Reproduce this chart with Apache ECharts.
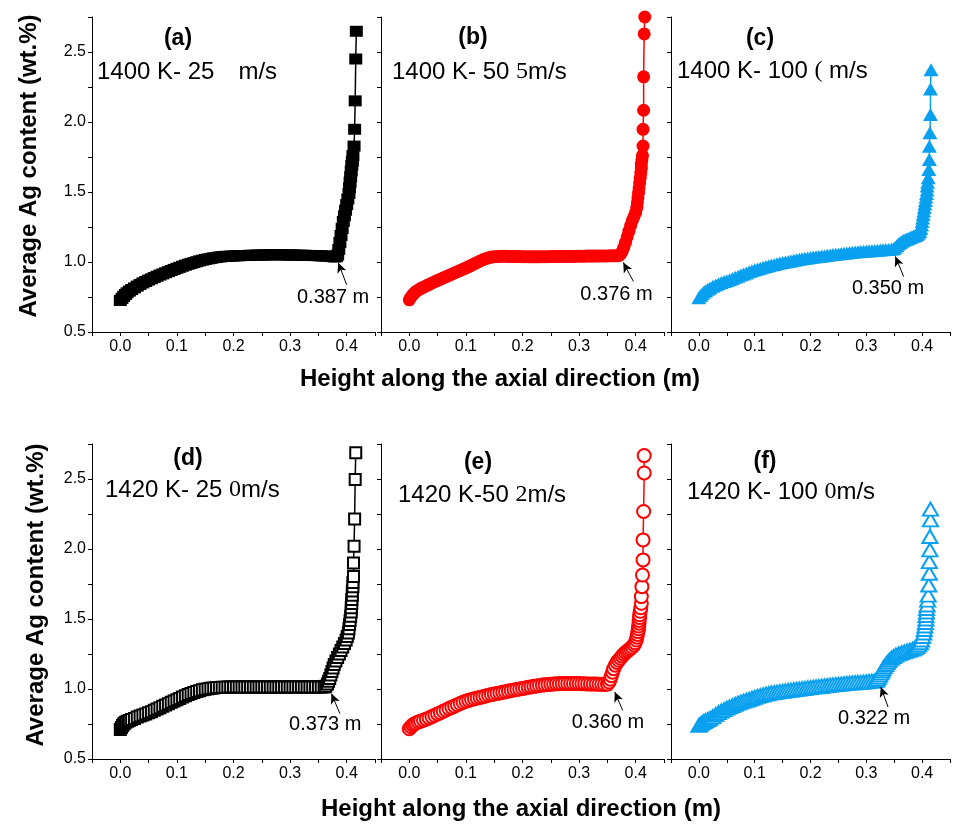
<!DOCTYPE html>
<html>
<head>
<meta charset="utf-8">
<title>Average Ag content along the axial direction</title>
<script src="https://cdn.jsdelivr.net/npm/echarts@6/dist/echarts.min.js"></script>
<style>
html, body { margin: 0; padding: 0; background: #fff; }
#container { width: 953px; height: 825px; }
</style>
</head>
<body>
<div id="container"></div>
<script>
// values: [height (m), Ag content (wt.%)]
var dataA = [[0.000,0.725],[0.003,0.740],[0.006,0.755],[0.009,0.768],[0.012,0.780],[0.016,0.792],[0.020,0.803],[0.025,0.815],[0.030,0.828],[0.035,0.840],[0.040,0.851],[0.045,0.861],[0.050,0.871],[0.055,0.880],[0.060,0.889],[0.065,0.898],[0.070,0.907],[0.075,0.915],[0.080,0.923],[0.085,0.931],[0.090,0.939],[0.095,0.947],[0.100,0.955],[0.105,0.962],[0.110,0.970],[0.115,0.977],[0.120,0.984],[0.125,0.990],[0.130,0.996],[0.135,1.002],[0.140,1.008],[0.145,1.013],[0.150,1.018],[0.155,1.022],[0.160,1.026],[0.165,1.030],[0.170,1.033],[0.175,1.036],[0.180,1.038],[0.185,1.040],[0.190,1.041],[0.195,1.042],[0.200,1.043],[0.205,1.044],[0.210,1.045],[0.215,1.046],[0.220,1.046],[0.225,1.047],[0.230,1.048],[0.235,1.048],[0.240,1.049],[0.245,1.049],[0.250,1.050],[0.255,1.050],[0.260,1.051],[0.265,1.051],[0.270,1.052],[0.275,1.052],[0.280,1.052],[0.285,1.051],[0.290,1.051],[0.295,1.050],[0.300,1.050],[0.305,1.050],[0.310,1.049],[0.315,1.049],[0.320,1.048],[0.325,1.048],[0.330,1.047],[0.335,1.047],[0.340,1.046],[0.345,1.046],[0.350,1.045],[0.355,1.044],[0.360,1.043],[0.365,1.042],[0.370,1.041],[0.375,1.038],[0.379,1.036],[0.382,1.038],[0.384,1.050],[0.386,1.090],[0.388,1.140],[0.390,1.190],[0.392,1.240],[0.394,1.290],[0.396,1.330],[0.398,1.370],[0.400,1.410],[0.402,1.450],[0.404,1.490],[0.405,1.530],[0.406,1.570],[0.407,1.610],[0.408,1.650],[0.409,1.690],[0.410,1.720],[0.411,1.760],[0.413,1.828],[0.414,1.948],[0.415,2.151],[0.416,2.450],[0.417,2.648]];
var dataB = [[0.000,0.730],[0.003,0.750],[0.006,0.765],[0.009,0.778],[0.012,0.790],[0.016,0.800],[0.020,0.810],[0.025,0.820],[0.030,0.830],[0.035,0.840],[0.040,0.850],[0.045,0.859],[0.050,0.868],[0.055,0.877],[0.060,0.886],[0.065,0.895],[0.070,0.904],[0.075,0.913],[0.080,0.922],[0.085,0.931],[0.090,0.940],[0.095,0.949],[0.100,0.958],[0.105,0.967],[0.110,0.977],[0.115,0.987],[0.120,0.997],[0.125,1.007],[0.130,1.016],[0.135,1.024],[0.140,1.030],[0.145,1.035],[0.150,1.038],[0.155,1.040],[0.160,1.040],[0.165,1.041],[0.170,1.041],[0.175,1.040],[0.180,1.040],[0.185,1.040],[0.190,1.039],[0.195,1.039],[0.200,1.038],[0.205,1.038],[0.210,1.038],[0.215,1.037],[0.220,1.037],[0.225,1.037],[0.230,1.037],[0.235,1.038],[0.240,1.038],[0.245,1.038],[0.250,1.039],[0.255,1.039],[0.260,1.040],[0.265,1.040],[0.270,1.040],[0.275,1.040],[0.280,1.040],[0.285,1.040],[0.290,1.040],[0.295,1.041],[0.300,1.041],[0.305,1.041],[0.310,1.041],[0.315,1.042],[0.320,1.042],[0.325,1.042],[0.330,1.042],[0.335,1.043],[0.340,1.043],[0.345,1.043],[0.350,1.043],[0.355,1.044],[0.360,1.044],[0.365,1.044],[0.370,1.045],[0.373,1.055],[0.376,1.075],[0.379,1.105],[0.382,1.140],[0.385,1.180],[0.388,1.220],[0.391,1.260],[0.394,1.295],[0.397,1.325],[0.400,1.355],[0.402,1.390],[0.403,1.425],[0.404,1.460],[0.405,1.495],[0.406,1.530],[0.407,1.565],[0.408,1.600],[0.409,1.635],[0.410,1.670],[0.410,1.700],[0.411,1.730],[0.412,1.760],[0.413,1.828],[0.413,1.948],[0.414,2.084],[0.414,2.323],[0.415,2.629],[0.416,2.750]];
var dataC = [[0.000,0.745],[0.003,0.760],[0.006,0.773],[0.009,0.785],[0.012,0.795],[0.016,0.805],[0.020,0.815],[0.025,0.826],[0.030,0.836],[0.035,0.845],[0.040,0.853],[0.045,0.860],[0.050,0.866],[0.055,0.874],[0.060,0.882],[0.065,0.891],[0.070,0.899],[0.075,0.907],[0.080,0.915],[0.085,0.922],[0.090,0.930],[0.095,0.937],[0.100,0.944],[0.105,0.950],[0.110,0.956],[0.115,0.962],[0.120,0.968],[0.125,0.973],[0.130,0.978],[0.135,0.983],[0.140,0.988],[0.145,0.992],[0.150,0.996],[0.155,1.000],[0.160,1.004],[0.165,1.008],[0.170,1.012],[0.175,1.016],[0.180,1.020],[0.185,1.023],[0.190,1.026],[0.195,1.029],[0.200,1.032],[0.205,1.035],[0.210,1.038],[0.215,1.040],[0.220,1.043],[0.225,1.045],[0.230,1.048],[0.235,1.050],[0.240,1.053],[0.245,1.055],[0.250,1.058],[0.255,1.060],[0.260,1.062],[0.265,1.065],[0.270,1.067],[0.275,1.069],[0.280,1.071],[0.285,1.073],[0.290,1.075],[0.295,1.077],[0.300,1.078],[0.305,1.080],[0.310,1.081],[0.315,1.083],[0.320,1.084],[0.325,1.086],[0.330,1.087],[0.335,1.089],[0.340,1.090],[0.345,1.092],[0.349,1.095],[0.352,1.105],[0.355,1.118],[0.358,1.130],[0.361,1.140],[0.364,1.148],[0.367,1.155],[0.370,1.160],[0.373,1.165],[0.376,1.170],[0.379,1.175],[0.382,1.180],[0.385,1.185],[0.388,1.190],[0.391,1.197],[0.394,1.207],[0.396,1.220],[0.398,1.240],[0.399,1.265],[0.400,1.290],[0.401,1.315],[0.402,1.340],[0.403,1.365],[0.404,1.390],[0.405,1.415],[0.406,1.440],[0.407,1.465],[0.408,1.490],[0.409,1.515],[0.409,1.542],[0.410,1.570],[0.411,1.602],[0.412,1.661],[0.413,1.733],[0.413,1.826],[0.414,1.924],[0.415,2.053],[0.415,2.235],[0.416,2.373]];
var dataD = [[0.000,0.710],[0.002,0.725],[0.004,0.740],[0.006,0.750],[0.008,0.758],[0.010,0.765],[0.013,0.770],[0.016,0.775],[0.020,0.782],[0.025,0.790],[0.030,0.800],[0.035,0.808],[0.040,0.815],[0.045,0.822],[0.050,0.830],[0.055,0.838],[0.060,0.848],[0.065,0.857],[0.070,0.866],[0.075,0.876],[0.080,0.886],[0.085,0.895],[0.090,0.905],[0.095,0.914],[0.100,0.923],[0.105,0.932],[0.110,0.942],[0.115,0.951],[0.120,0.960],[0.125,0.968],[0.130,0.975],[0.135,0.982],[0.140,0.988],[0.145,0.994],[0.150,0.998],[0.155,1.002],[0.160,1.005],[0.165,1.008],[0.170,1.010],[0.175,1.011],[0.180,1.012],[0.185,1.013],[0.190,1.014],[0.195,1.015],[0.200,1.015],[0.205,1.015],[0.210,1.015],[0.215,1.015],[0.220,1.015],[0.225,1.015],[0.230,1.015],[0.235,1.015],[0.240,1.015],[0.245,1.015],[0.250,1.015],[0.255,1.015],[0.260,1.015],[0.265,1.015],[0.270,1.015],[0.275,1.015],[0.280,1.015],[0.285,1.015],[0.290,1.015],[0.295,1.015],[0.300,1.015],[0.305,1.015],[0.310,1.015],[0.315,1.015],[0.320,1.015],[0.325,1.015],[0.330,1.015],[0.335,1.015],[0.340,1.015],[0.345,1.015],[0.350,1.015],[0.355,1.015],[0.360,1.015],[0.363,1.020],[0.366,1.035],[0.368,1.055],[0.370,1.075],[0.372,1.100],[0.374,1.125],[0.376,1.150],[0.378,1.175],[0.381,1.200],[0.384,1.225],[0.387,1.250],[0.390,1.275],[0.393,1.300],[0.396,1.325],[0.399,1.350],[0.401,1.375],[0.403,1.400],[0.404,1.430],[0.405,1.460],[0.406,1.490],[0.407,1.520],[0.408,1.550],[0.408,1.580],[0.409,1.610],[0.409,1.640],[0.410,1.670],[0.410,1.700],[0.411,1.730],[0.411,1.760],[0.412,1.803],[0.412,1.900],[0.413,2.019],[0.414,2.215],[0.415,2.497],[0.416,2.688]];
var dataE = [[0.000,0.716],[0.003,0.730],[0.006,0.742],[0.009,0.750],[0.012,0.757],[0.016,0.764],[0.020,0.770],[0.025,0.777],[0.030,0.785],[0.035,0.793],[0.040,0.803],[0.045,0.812],[0.050,0.822],[0.055,0.831],[0.060,0.841],[0.065,0.850],[0.070,0.860],[0.075,0.869],[0.080,0.878],[0.085,0.887],[0.090,0.896],[0.095,0.905],[0.100,0.912],[0.105,0.919],[0.110,0.925],[0.115,0.930],[0.120,0.935],[0.125,0.940],[0.130,0.945],[0.135,0.950],[0.140,0.955],[0.145,0.960],[0.150,0.964],[0.155,0.968],[0.160,0.972],[0.165,0.976],[0.170,0.980],[0.175,0.985],[0.180,0.989],[0.185,0.993],[0.190,0.997],[0.195,1.000],[0.200,1.004],[0.205,1.008],[0.210,1.012],[0.215,1.015],[0.220,1.019],[0.225,1.022],[0.230,1.025],[0.235,1.028],[0.240,1.030],[0.245,1.032],[0.250,1.034],[0.255,1.035],[0.260,1.037],[0.265,1.038],[0.270,1.039],[0.275,1.040],[0.280,1.040],[0.285,1.040],[0.290,1.040],[0.295,1.040],[0.300,1.039],[0.305,1.038],[0.310,1.037],[0.315,1.036],[0.320,1.036],[0.325,1.035],[0.330,1.035],[0.335,1.034],[0.340,1.034],[0.345,1.033],[0.350,1.035],[0.353,1.050],[0.355,1.070],[0.357,1.095],[0.359,1.120],[0.361,1.145],[0.364,1.170],[0.367,1.190],[0.370,1.205],[0.373,1.220],[0.376,1.235],[0.379,1.248],[0.382,1.260],[0.385,1.270],[0.388,1.280],[0.391,1.290],[0.394,1.300],[0.397,1.315],[0.399,1.330],[0.401,1.350],[0.402,1.370],[0.403,1.390],[0.404,1.410],[0.405,1.430],[0.405,1.450],[0.406,1.470],[0.406,1.490],[0.407,1.510],[0.407,1.530],[0.408,1.555],[0.409,1.580],[0.410,1.612],[0.410,1.660],[0.411,1.731],[0.412,1.814],[0.413,1.922],[0.413,2.065],[0.414,2.268],[0.415,2.543],[0.415,2.667]];
var dataF = [[0.000,0.740],[0.003,0.750],[0.006,0.760],[0.009,0.768],[0.012,0.775],[0.016,0.782],[0.020,0.790],[0.025,0.803],[0.030,0.818],[0.035,0.831],[0.040,0.843],[0.045,0.853],[0.050,0.863],[0.055,0.872],[0.060,0.882],[0.065,0.891],[0.070,0.899],[0.075,0.906],[0.080,0.913],[0.085,0.920],[0.090,0.927],[0.095,0.934],[0.100,0.940],[0.105,0.947],[0.110,0.953],[0.115,0.959],[0.120,0.964],[0.125,0.968],[0.130,0.972],[0.135,0.975],[0.140,0.978],[0.145,0.981],[0.150,0.984],[0.155,0.987],[0.160,0.990],[0.165,0.993],[0.170,0.995],[0.175,0.998],[0.180,1.000],[0.185,1.003],[0.190,1.005],[0.195,1.008],[0.200,1.010],[0.205,1.013],[0.210,1.015],[0.215,1.018],[0.220,1.020],[0.225,1.023],[0.230,1.025],[0.235,1.028],[0.240,1.030],[0.245,1.032],[0.250,1.034],[0.255,1.036],[0.260,1.038],[0.265,1.040],[0.270,1.042],[0.275,1.044],[0.280,1.045],[0.285,1.047],[0.290,1.048],[0.295,1.050],[0.300,1.052],[0.305,1.054],[0.310,1.056],[0.315,1.058],[0.318,1.062],[0.320,1.072],[0.322,1.085],[0.324,1.100],[0.326,1.115],[0.328,1.130],[0.330,1.145],[0.332,1.160],[0.335,1.175],[0.338,1.190],[0.341,1.205],[0.345,1.220],[0.349,1.232],[0.353,1.243],[0.358,1.252],[0.363,1.259],[0.368,1.265],[0.373,1.272],[0.378,1.278],[0.383,1.285],[0.387,1.293],[0.391,1.303],[0.394,1.315],[0.397,1.330],[0.399,1.350],[0.401,1.375],[0.403,1.400],[0.404,1.425],[0.405,1.450],[0.406,1.475],[0.407,1.500],[0.407,1.525],[0.408,1.550],[0.408,1.575],[0.409,1.600],[0.410,1.635],[0.411,1.671],[0.412,1.743],[0.413,1.827],[0.413,1.910],[0.414,1.994],[0.414,2.089],[0.415,2.208],[0.415,2.285]];

var xTicks = ['0.0', '0.1', '0.2', '0.3', '0.4'];
var yTicks = ['0.5', '1.0', '1.5', '2.0', '2.5'];
var panelTags = ['(a)', '(b)', '(c)', '(d)', '(e)', '(f)'];
// each condition label: [text before, odd glyph, text after]
var conditions = [
    ['1400 K- 25', '    ', 'm/s'],
    ['1400 K- 50 ', '5', 'm/s'],
    ['1400 K- 100 ', '(', ' m/s'],
    ['1420 K- 25 ', '0', 'm/s'],
    ['1420 K-50 ', '2', 'm/s'],
    ['1420 K- 100 ', '0', 'm/s']
];
// onset of the steep rise, and the arrow / label placed in data units
var onsets = [0.387, 0.376, 0.350, 0.373, 0.360, 0.322];
var arrowTips = [[0.385,0.995],[0.378,0.997],[0.352,1.040],[0.373,0.967],[0.363,0.979],[0.326,1.014]];
var arrowTails = [[0.400,0.837],[0.396,0.861],[0.367,0.896],[0.388,0.824],[0.377,0.847],[0.339,0.871]];
var notePoints = [[0.376,0.744],[0.366,0.765],[0.339,0.813],[0.362,0.747],[0.351,0.764],[0.314,0.792]];

var sans = '"Liberation Sans", Arial, Helvetica, sans-serif';
var serif = '"Liberation Serif", "Times New Roman", serif';
var BLUE = '#0aa0f0';

var panels = [
    {data: dataA, left: 92,  top: 17,  width: 283, symbol: 'rect', size: [13, 11], color: '#000', tag: [178, 39],  cond: [97, 72]},
    {data: dataB, left: 381, top: 17,  width: 283, symbol: 'circle', size: 13, color: '#ff0000', tag: [473, 38], cond: [392, 72]},
    {data: dataC, left: 671, top: 17,  width: 281, symbol: 'triangle', size: [15, 13], color: BLUE, tag: [760, 39], cond: [677, 71]},
    {data: dataD, left: 92,  top: 444, width: 283, symbol: 'emptyRect', size: 11, color: '#000', tag: [188, 459], cond: [105, 490]},
    {data: dataE, left: 381, top: 444, width: 283, symbol: 'emptyCircle', size: 13, color: '#ff0000', tag: [478, 463], cond: [398, 495]},
    {data: dataF, left: 671, top: 444, width: 281, symbol: 'emptyTriangle', size: [15, 13], color: BLUE, tag: [765, 462], cond: [687, 492]}
];

function fmtX(v) {
    var s = v.toFixed(1);
    return (xTicks.indexOf(s) >= 0 && Math.abs(v - parseFloat(s)) < 1e-6) ? s : '';
}
function fmtY(v) {
    var s = v.toFixed(1);
    return (yTicks.indexOf(s) >= 0 && Math.abs(v - parseFloat(s)) < 1e-6) ? s : '';
}

var axisLineStyle = {color: '#000', width: 1};

var option = {
    backgroundColor: '#fff',
    animation: false,
    grid: [], xAxis: [], yAxis: [], series: [], graphic: []
};

panels.forEach(function (p, i) {
    var firstCol = (i % 3 === 0);
    var empty = p.symbol.indexOf('empty') === 0;
    option.grid.push({left: p.left, top: p.top, width: p.width, height: 315, containLabel: false});
    option.xAxis.push({
        type: 'value', gridIndex: i, min: -0.05, max: 0.45, interval: 0.05,
        axisLine: {show: true, onZero: false, lineStyle: axisLineStyle},
        axisTick: {show: true, length: 4, lineStyle: axisLineStyle},
        splitLine: {show: false},
        axisLabel: {margin: 7, color: '#000', fontSize: 16, fontFamily: sans, formatter: fmtX}
    });
    option.yAxis.push({
        type: 'value', gridIndex: i, min: 0.5, max: 2.75, interval: 0.25,
        axisLine: {show: true, onZero: false, lineStyle: axisLineStyle},
        axisTick: {show: true, length: 4, lineStyle: axisLineStyle},
        splitLine: {show: false},
        axisLabel: {show: firstCol, margin: 6, color: '#000', fontSize: 16, fontFamily: sans, formatter: fmtY}
    });
    option.series.push({
        type: 'line',
        xAxisIndex: i, yAxisIndex: i,
        data: p.data,
        symbol: p.symbol,
        symbolSize: p.size,
        showSymbol: true,
        lineStyle: {color: p.color, width: 1.5},
        itemStyle: {color: p.color, borderColor: p.color, borderWidth: empty ? 1.2 : 0},
        emphasis: {disabled: true},
        markLine: {
            silent: true, animation: false,
            symbol: ['none', 'arrow'], symbolSize: [7, 10],
            lineStyle: {color: '#000', width: 1, type: 'solid'},
            label: {show: false},
            data: [[{coord: arrowTails[i]}, {coord: arrowTips[i]}]]
        },
        markPoint: {
            silent: true, animation: false,
            symbol: 'rect', symbolSize: 1,
            itemStyle: {color: 'rgba(0,0,0,0)'},
            label: {show: true, position: 'inside', color: '#000', fontSize: 20, fontFamily: sans,
                formatter: onsets[i].toFixed(3) + ' m'},
            data: [{coord: notePoints[i]}]
        }
    });
    option.graphic.push({
        type: 'text', x: p.tag[0], y: p.tag[1],
        style: {text: panelTags[i], fill: '#000', font: 'bold 23px ' + sans, align: 'center', verticalAlign: 'middle'}
    });
    var c = conditions[i];
    option.graphic.push({
        type: 'text', x: p.cond[0], y: p.cond[1],
        style: {
            text: '{n|' + c[0] + '}{s|' + c[1] + '}{n|' + c[2] + '}',
            rich: {
                n: {fontSize: 24, fontFamily: sans, fill: '#000'},
                s: {fontSize: 24, fontFamily: serif, fill: '#000'}
            },
            align: 'left', verticalAlign: 'middle'
        }
    });
});

// axis titles
var yTitle = 'Average Ag content (wt.%)';
var xTitle = 'Height along the axial direction (m)';
[[29, 166], [36, 595]].forEach(function (pos) {
    option.graphic.push({
        type: 'text', x: pos[0], y: pos[1], rotation: Math.PI / 2,
        style: {text: yTitle, fill: '#000', font: 'bold 24px ' + sans, align: 'center', verticalAlign: 'middle'}
    });
});
[[500, 379], [521, 809]].forEach(function (pos) {
    option.graphic.push({
        type: 'text', x: pos[0], y: pos[1],
        style: {text: xTitle, fill: '#000', font: 'bold 24px ' + sans, align: 'center', verticalAlign: 'middle'}
    });
});

var chart = echarts.init(document.getElementById('container'));
chart.setOption(option);
</script>
</body>
</html>
